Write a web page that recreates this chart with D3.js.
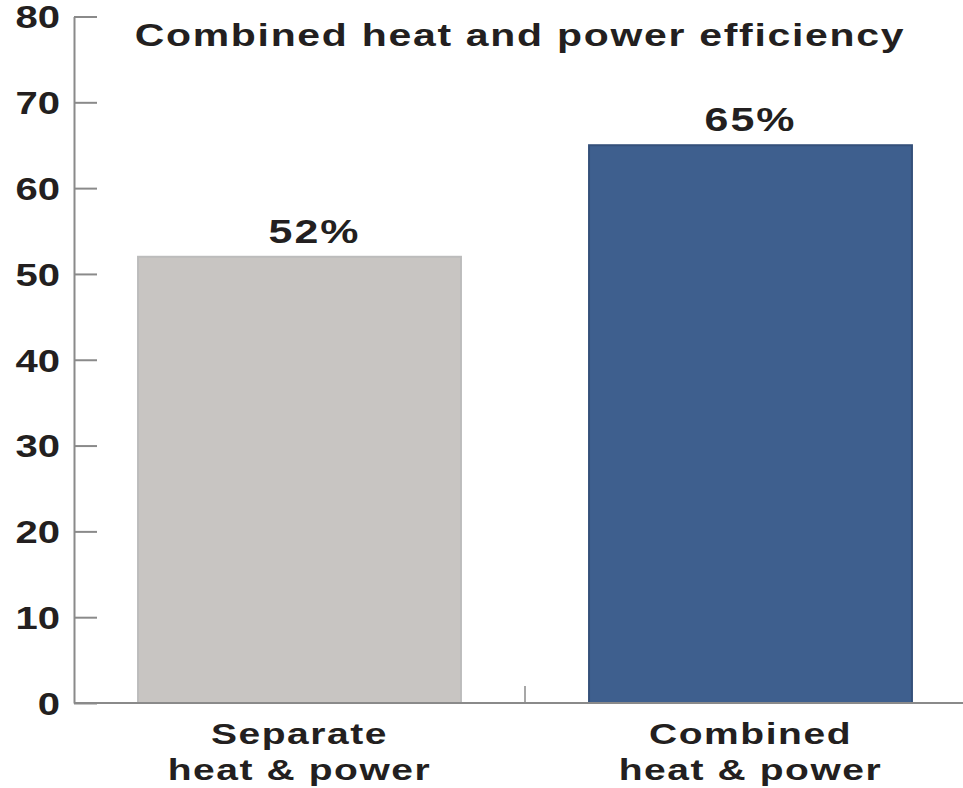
<!DOCTYPE html>
<html>
<head>
<meta charset="utf-8">
<script src="https://cdn.jsdelivr.net/npm/d3@7"></script>
<style>
  html, body { margin: 0; padding: 0; background: #fff; }
  svg text { font-family: "Liberation Sans", Arial, Helvetica, sans-serif; font-weight: bold; fill: #231f20; }
</style>
</head>
<body>
<svg id="chart" width="963" height="788"></svg>
<script>
// Chart data
const categories = ["Separate\nheat & power", "Combined\nheat & power"];
const values = [52, 65];
const valueLabels = ["52%", "65%"];
const barColors = ["#c8c5c2", "#3e5f8e"];
const barEdges = ["#bcbcbc", "#34507a"];
const yTicks = [0, 10, 20, 30, 40, 50, 60, 70, 80];
const title = "Combined heat and power efficiency";

const svg = d3.select("#chart");
const y0 = 703, yTop = 16.5;

const x = d3.scaleBand().domain(categories).range([74, 976]).paddingInner(0.284).paddingOuter(0.142);
const y = d3.scaleLinear().domain([0, 80]).range([y0, yTop]);

const stretch = 1.3;

// Bars
svg.selectAll("rect.bar").data(values).enter().append("rect")
  .attr("class", "bar")
  .attr("x", (d, i) => x(categories[i]))
  .attr("y", d => y(d))
  .attr("width", x.bandwidth())
  .attr("height", d => y(0) - y(d))
  .attr("fill", (d, i) => barColors[i])
  .attr("stroke", (d, i) => barEdges[i])
  .attr("stroke-width", 2);

// Y axis with ticks pointing inward
const yAxis = d3.axisRight(y).tickValues(yTicks).tickSize(23).tickSizeOuter(0).tickFormat(d3.format("d"));
const gy = svg.append("g").attr("transform", "translate(74,0)").call(yAxis);
gy.select(".domain").attr("stroke", "#8a8a8a").attr("stroke-width", 2);
gy.selectAll(".tick line").attr("stroke", "#8a8a8a").attr("stroke-width", 2);
gy.selectAll(".tick text")
  .attr("x", 0).attr("dy", "0.36em")
  .attr("text-anchor", "end")
  .attr("font-size", 31.5)
  .attr("fill", "#231f20")
  .attr("transform", `translate(-14,0) scale(1.27,1)`);

// X axis baseline with a divider tick between categories
svg.append("line")
  .attr("x1", 74).attr("x2", 963).attr("y1", y0).attr("y2", y0)
  .attr("stroke", "#8a8a8a").attr("stroke-width", 2);
const mid = (x(categories[0]) + x.bandwidth() + x(categories[1])) / 2;
svg.append("line")
  .attr("x1", mid).attr("x2", mid).attr("y1", y0).attr("y2", y0 - 17)
  .attr("stroke", "#8a8a8a").attr("stroke-width", 1.5);

// Helper: stretched text centred at (cx, cy)
function stretchedText(txt, cx, cy, size, spacing) {
  svg.append("text")
    .attr("transform", `translate(${cx},${cy}) scale(${stretch},1)`)
    .attr("text-anchor", "middle")
    .attr("font-size", size)
    .attr("letter-spacing", spacing || 0)
    .text(txt);
}

// Title
stretchedText(title, 520, 46, 31.5, 1.33);

// Value labels (the first sits a little right of its bar's centre)
const labelShift = [15, 0];
values.forEach((v, i) => {
  stretchedText(valueLabels[i], x(categories[i]) + x.bandwidth() / 2 + labelShift[i], y(v) - 14, 33, 1.6);
});

// Category labels
categories.forEach(c => {
  const lines = c.split("\n");
  lines.forEach((ln, j) => {
    stretchedText(ln, x(c) + x.bandwidth() / 2, 744 + j * 36, 30, 1.2);
  });
});
</script>
</body>
</html>
